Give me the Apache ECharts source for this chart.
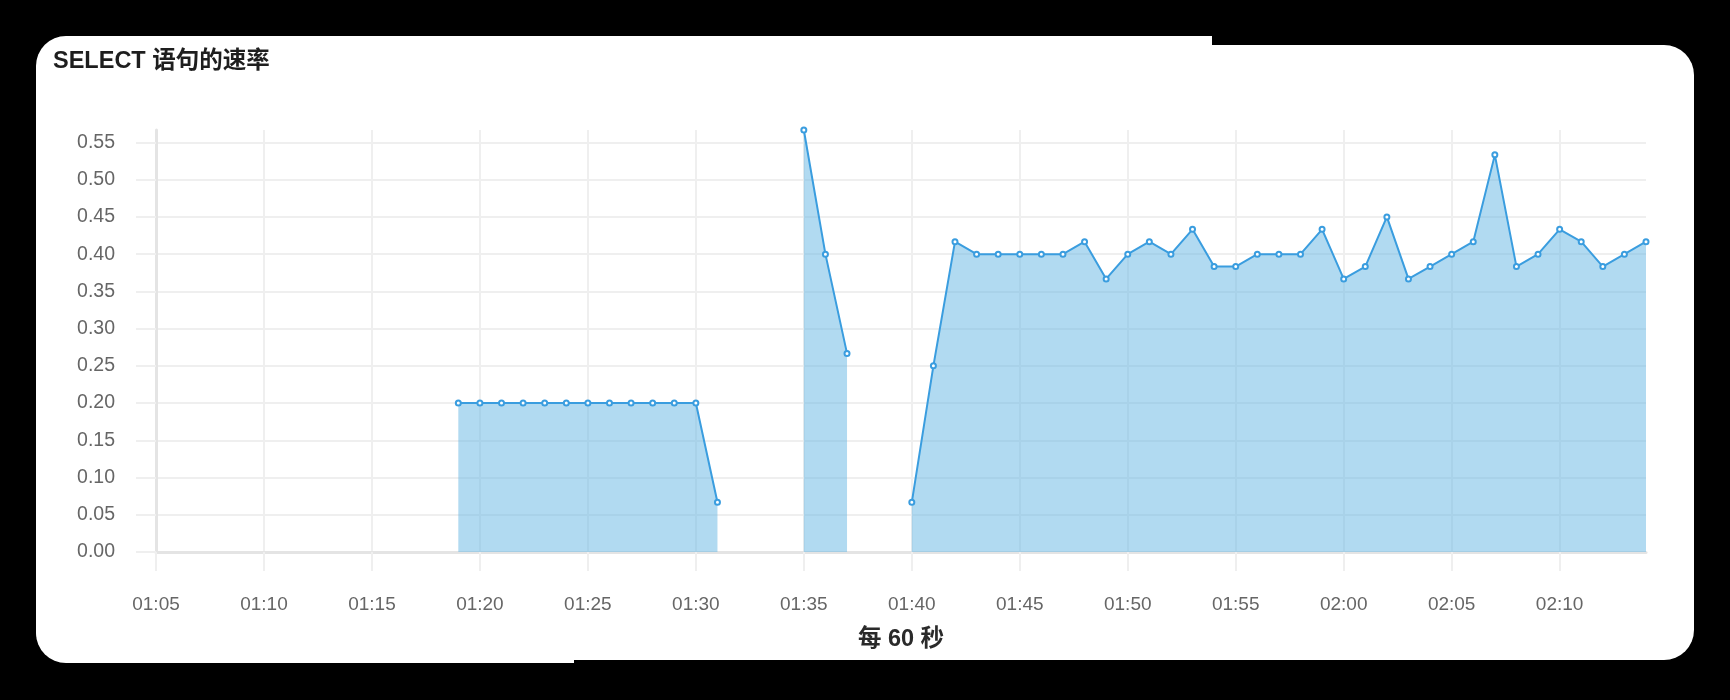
<!DOCTYPE html>
<html>
<head>
<meta charset="utf-8">
<script src="https://cdn.jsdelivr.net/npm/echarts@6/dist/echarts.min.js"></script>
<style>
  html, body { margin: 0; padding: 0; background: #000; width: 1730px; height: 700px; overflow: hidden; }
  .w { position: absolute; background: #fff; }
  #chart { position: absolute; left: 0; top: 0; width: 1730px; height: 700px; }
</style>
</head>
<body>
<div class="w" style="left:36px;top:45px;width:1658px;height:615px;border-radius:30px;"></div>
<div class="w" style="left:36px;top:36px;width:1176px;height:60px;border-radius:30px 0 0 0;"></div>
<div class="w" style="left:36px;top:600px;width:538px;height:63px;border-radius:0 0 0 30px;"></div>
<div id="chart"></div>
<script>
const titleText = 'SELECT 语句的速率';
const xAxisName = '每 60 秒';
const times = [
  '01:05','01:06','01:07','01:08','01:09','01:10','01:11','01:12','01:13','01:14',
  '01:15','01:16','01:17','01:18','01:19','01:20','01:21','01:22','01:23','01:24',
  '01:25','01:26','01:27','01:28','01:29','01:30','01:31','01:32','01:33','01:34',
  '01:35','01:36','01:37','01:38','01:39','01:40','01:41','01:42','01:43','01:44',
  '01:45','01:46','01:47','01:48','01:49','01:50','01:51','01:52','01:53','01:54',
  '01:55','01:56','01:57','01:58','01:59','02:00','02:01','02:02','02:03','02:04',
  '02:05','02:06','02:07','02:08','02:09','02:10','02:11','02:12','02:13','02:14'
];
const rates = [
  null,null,null,null,null,null,null,null,null,null,
  null,null,null,null,0.2,0.2,0.2,0.2,0.2,0.2,
  0.2,0.2,0.2,0.2,0.2,0.2,0.0667,null,null,null,
  0.5667,0.4,0.2667,null,null,0.0667,0.25,0.4167,0.4,0.4,
  0.4,0.4,0.4,0.4167,0.3667,0.4,0.4167,0.4,0.4333,0.3833,
  0.3833,0.4,0.4,0.4,0.4333,0.3667,0.3833,0.45,0.3667,0.3833,
  0.4,0.4167,0.5333,0.3833,0.4,0.4333,0.4167,0.3833,0.4,0.4167
];
const yTicks = [0,0.05,0.1,0.15,0.2,0.25,0.3,0.35,0.4,0.45,0.5,0.55];

const FONT = '"Liberation Sans", "Noto Sans CJK SC", sans-serif';
const gridColor = '#efefef';
const every5 = function (idx) { return idx % 5 === 0; };

const chart = echarts.init(document.getElementById('chart'), null, { renderer: 'canvas' });
chart.setOption({
  backgroundColor: 'transparent',
  animation: false,
  title: {
    text: titleText,
    left: 48, top: 45,
    textStyle: { fontFamily: FONT, fontSize: 23.5, fontWeight: 'bold', color: '#1e1e1e' }
  },
  grid: { left: 156, right: 84, top: 130, bottom: 148, containLabel: false },
  xAxis: {
    type: 'category',
    data: times,
    boundaryGap: false,
    name: xAxisName,
    nameLocation: 'middle',
    nameGap: 76,
    nameTextStyle: { fontFamily: FONT, fontSize: 23.5, fontWeight: 'bold', color: '#2a2a2a' },
    axisLine: { show: true, lineStyle: { color: '#e4e4e4', width: 3 } },
    axisTick: { show: true, interval: every5, length: 19, lineStyle: { color: gridColor, width: 2 } },
    axisLabel: { interval: every5, margin: 43, fontFamily: FONT, fontSize: 19, color: '#666' },
    splitLine: { show: true, interval: every5, lineStyle: { color: gridColor, width: 2 } }
  },
  yAxis: {
    type: 'value',
    min: 0,
    max: 'dataMax',
    interval: 0.05,
    axisLine: { show: true, lineStyle: { color: '#e4e4e4', width: 3 } },
    axisTick: { show: true, length: 20, customValues: yTicks, lineStyle: { color: gridColor, width: 2 } },
    axisLabel: {
      margin: 41, fontFamily: FONT, fontSize: 19.5, color: '#666',
      customValues: yTicks,
      formatter: function (v) { return v.toFixed(2); }
    },
    splitLine: { show: true, lineStyle: { color: gridColor, width: 2 } }
  },
  series: [{
    type: 'line',
    data: rates,
    connectNulls: false,
    symbol: 'emptyCircle',
    symbolSize: 5,
    showSymbol: true,
    lineStyle: { color: '#3a9ddf', width: 2 },
    itemStyle: { color: '#3a9ddf', borderWidth: 1.5 },
    areaStyle: { color: 'rgb(100,181,227)', opacity: 0.5 },
    emphasis: { disabled: true }
  }]
});
</script>
</body>
</html>
